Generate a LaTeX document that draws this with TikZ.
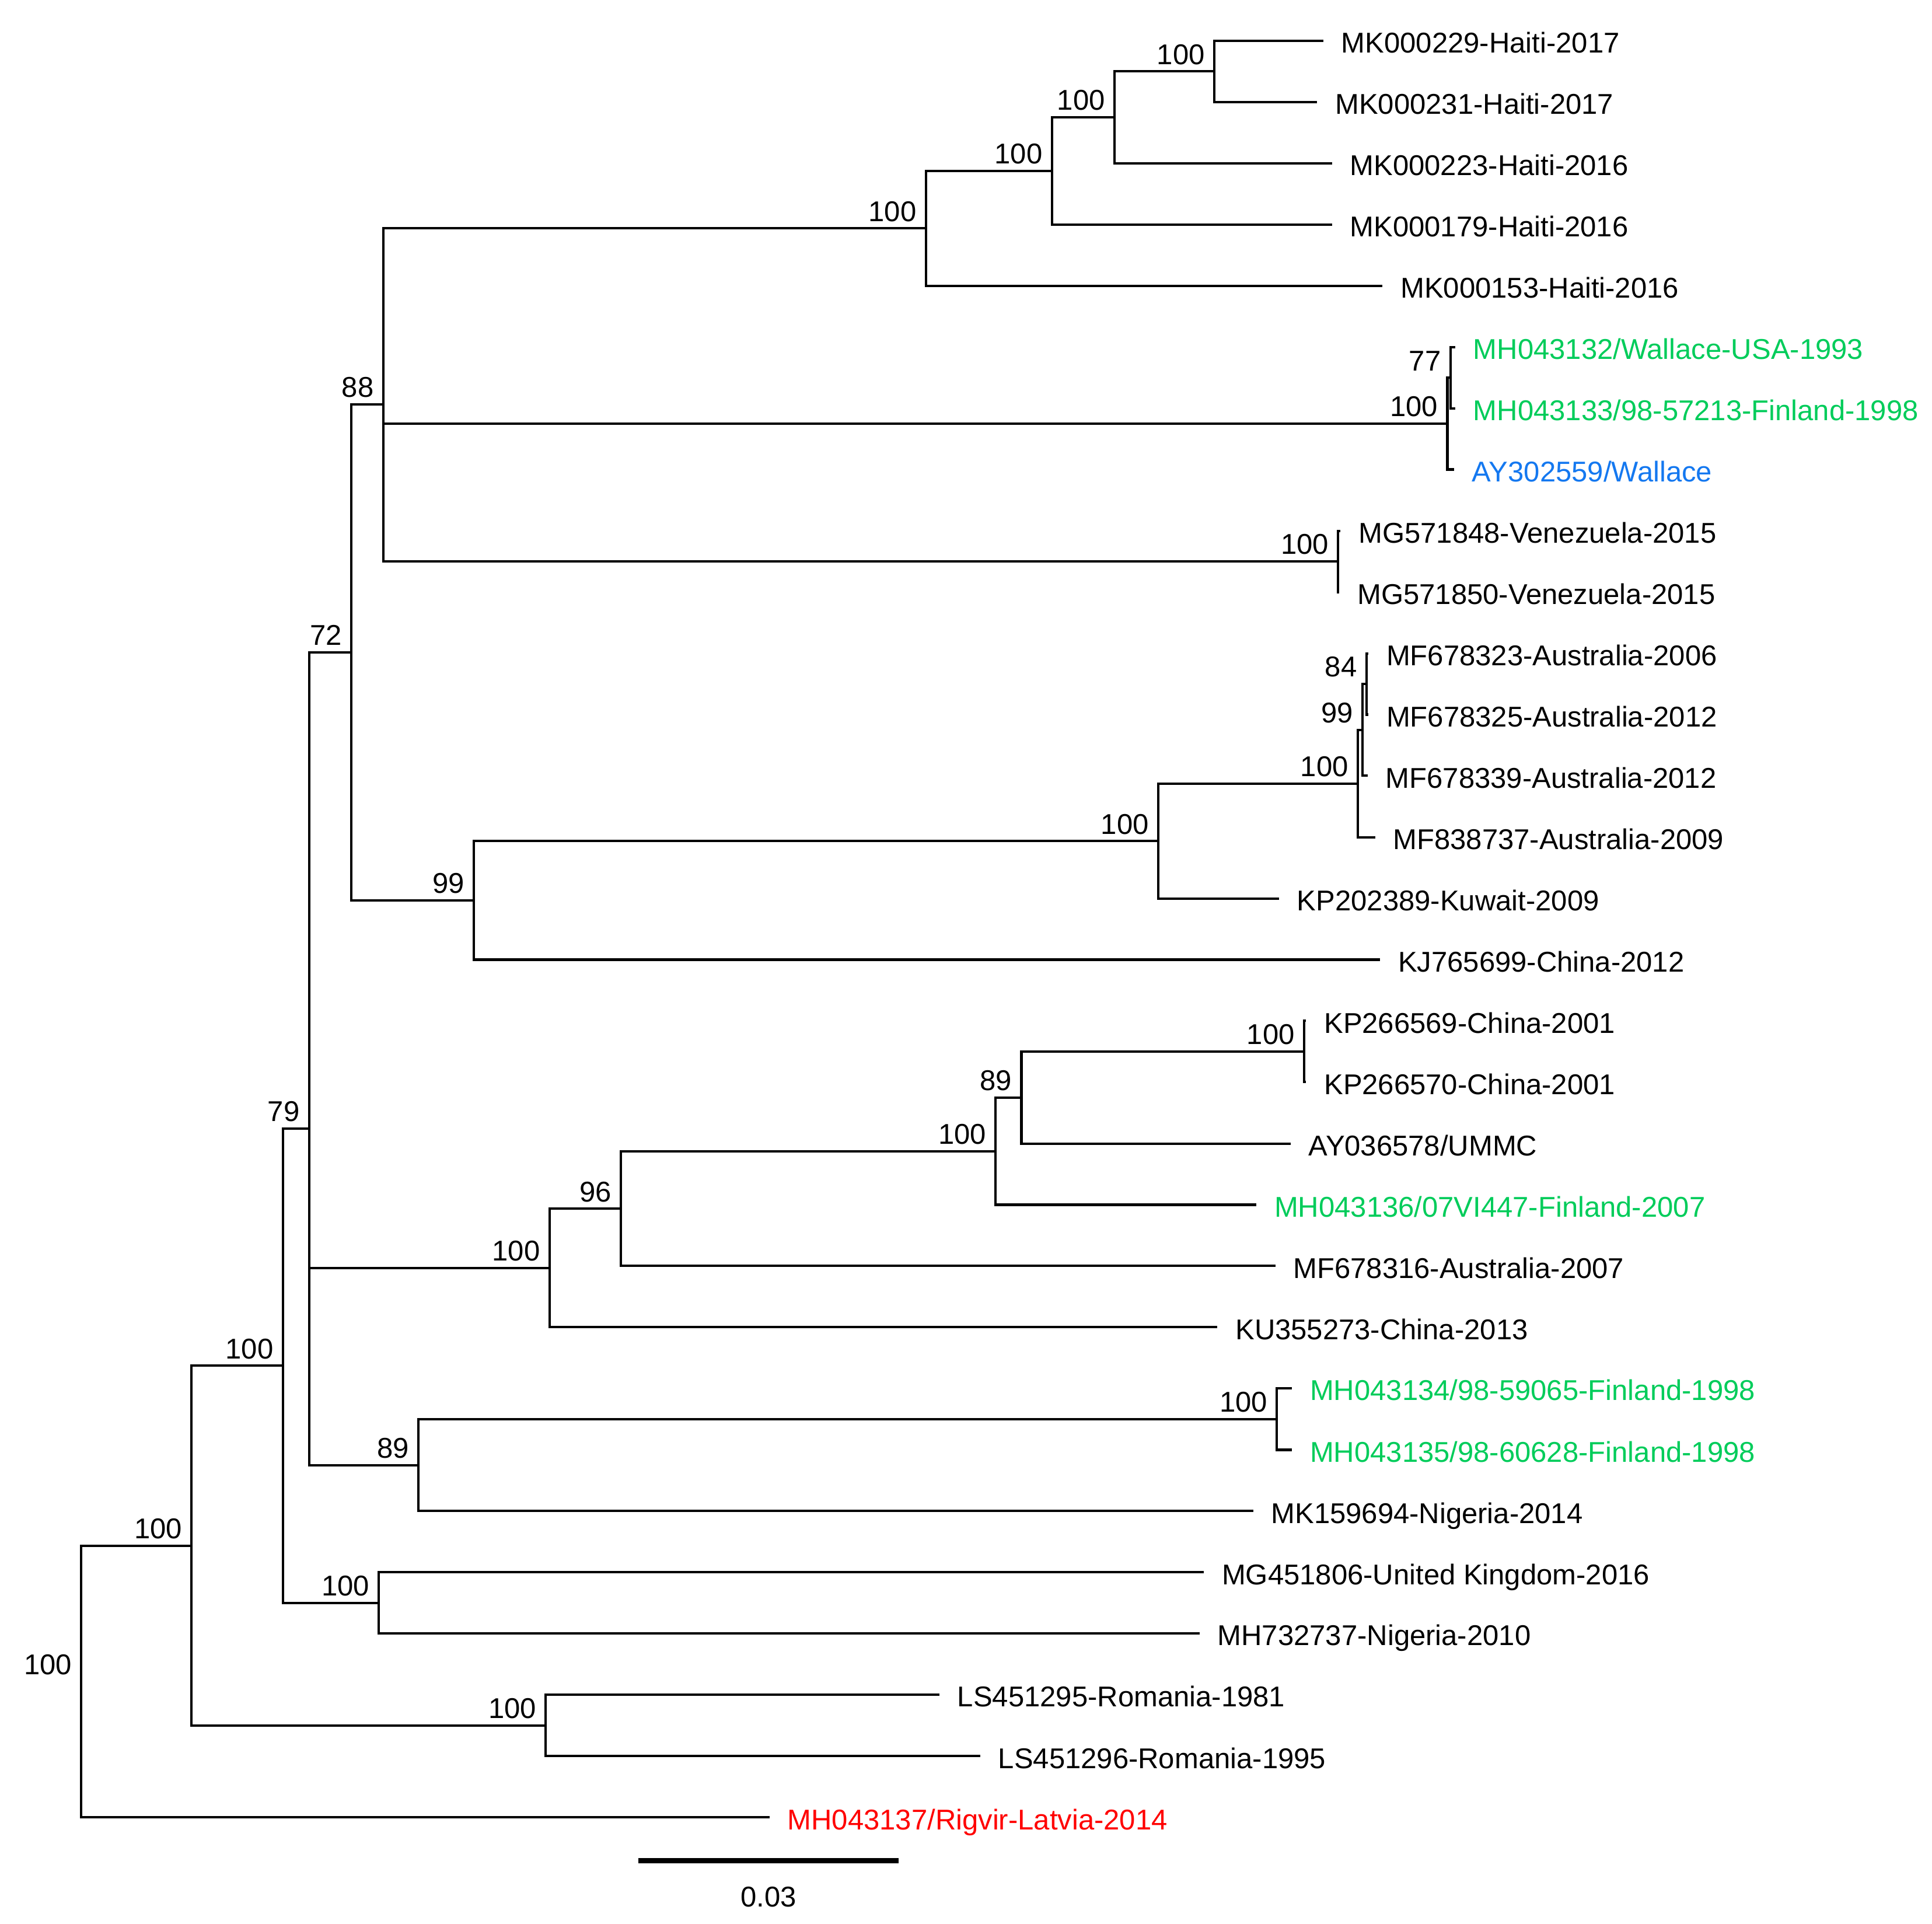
\documentclass[tikz,border=0pt]{standalone}
\usepackage{fontspec}
\setmainfont{Liberation Sans}
\usetikzlibrary{positioning}
\definecolor{isogreen}{RGB}{0,204,90}
\definecolor{isoblue}{RGB}{20,120,240}
\definecolor{isored}{RGB}{255,0,0}
\begin{document}
\begin{tikzpicture}[x=0.01cm,y=-0.01cm,node distance=0.14cm,
    branch/.style={line width=0.55pt},
    taxon/.style={right=of #1,yshift=-0.015cm,inner sep=0pt,text height=4.7pt,text depth=0pt,font=\fontsize{6.6}{8}\selectfont},
    boot/.style={above left=0.05cm and 0.07cm of #1,inner sep=0pt,text height=4.7pt,text depth=0pt,font=\fontsize{6.6}{8}\selectfont}]
    \useasboundingbox (0,0) rectangle (1568,1561);
    %% internal nodes
    \coordinate (root) at (66,1364.6);
    \coordinate (na) at (155.5,1254.3);
    \coordinate (nrom) at (443,1400.3);
    \coordinate (nb) at (229.5,1108.3);
    \coordinate (nnig) at (307.5,1300.9);
    \coordinate (nc) at (250.8,915.8);
    \coordinate (nd) at (285,529.4);
    \coordinate (ng) at (311,328.2);
    \coordinate (nha1) at (751.4,185.3);
    \coordinate (nha2) at (853.7,138.7);
    \coordinate (nha3) at (904.5,95.1);
    \coordinate (nha4) at (985.5,57.9);
    \coordinate (nwa1) at (1174.7,343.7);
    \coordinate (nwa2) at (1177.2,306.5);
    \coordinate (nve) at (1086,455.6);
    \coordinate (nh) at (384.7,730.6);
    \coordinate (nku) at (940,682.5);
    \coordinate (nau1) at (1102,635.9);
    \coordinate (nau2) at (1106,592.3);
    \coordinate (nau3) at (1109,555);
    \coordinate (ne) at (446,1029);
    \coordinate (n96) at (504,980.8);
    \coordinate (num) at (808,934.2);
    \coordinate (n89) at (829,890.7);
    \coordinate (nch) at (1058.4,853.4);
    \coordinate (nf) at (339.5,1189);
    \coordinate (nfi) at (1036.2,1151.7);
    %% leaf tips
    \coordinate (t1) at (1074,33);
    \coordinate (t2) at (1069,82.7);
    \coordinate (t3) at (1081,132.4);
    \coordinate (t4) at (1081,182.2);
    \coordinate (t5) at (1122,231.9);
    \coordinate (t6) at (1181,281.6);
    \coordinate (t7) at (1181,331.3);
    \coordinate (t8) at (1180,381);
    \coordinate (t9) at (1088,430.8);
    \coordinate (t10) at (1087,480.5);
    \coordinate (t11) at (1110.5,530.2);
    \coordinate (t12) at (1110.5,579.9);
    \coordinate (t13) at (1110,629.6);
    \coordinate (t14) at (1116,679.4);
    \coordinate (t15) at (1038,729.1);
    \coordinate (t16) at (1120,778.8);
    \coordinate (t17) at (1060,828.5);
    \coordinate (t18) at (1060,878.2);
    \coordinate (t19) at (1047.5,928);
    \coordinate (t20) at (1019.6,977.7);
    \coordinate (t21) at (1035,1027.4);
    \coordinate (t22) at (988,1077.1);
    \coordinate (t23) at (1048.5,1126.8);
    \coordinate (t24) at (1048.5,1176.6);
    \coordinate (t25) at (1017,1226.3);
    \coordinate (t26) at (977,1276);
    \coordinate (t27) at (973.5,1325.7);
    \coordinate (t28) at (762.4,1375.4);
    \coordinate (t29) at (795.5,1425.2);
    \coordinate (t30) at (624.5,1474.9);
    %% branches
    \draw[branch] (root) |- (na);
    \draw[branch] (root) |- (t30);
    \draw[branch] (na) |- (nb);
    \draw[branch] (na) |- (nrom);
    \draw[branch] (nrom) |- (t28);
    \draw[branch] (nrom) |- (t29);
    \draw[branch] (nb) |- (nc);
    \draw[branch] (nb) |- (nnig);
    \draw[branch] (nnig) |- (t26);
    \draw[branch] (nnig) |- (t27);
    \draw[branch] (nc) |- (nd);
    \draw[branch] (nc) |- (ne);
    \draw[branch] (nc) |- (nf);
    \draw[branch] (nd) |- (ng);
    \draw[branch] (nd) |- (nh);
    %% haiti, wallace, venezuela
    \draw[branch] (ng) |- (nha1);
    \draw[branch] (ng) |- (nwa1);
    \draw[branch] (ng) |- (nve);
    \draw[branch] (nha1) |- (nha2);
    \draw[branch] (nha1) |- (t5);
    \draw[branch] (nha2) |- (nha3);
    \draw[branch] (nha2) |- (t4);
    \draw[branch] (nha3) |- (nha4);
    \draw[branch] (nha3) |- (t3);
    \draw[branch] (nha4) |- (t1);
    \draw[branch] (nha4) |- (t2);
    \draw[branch] (nwa1) |- (nwa2);
    \draw[branch] (nwa1) |- (t8);
    \draw[branch] (nwa2) |- (t6);
    \draw[branch] (nwa2) |- (t7);
    \draw[branch] (nve) |- (t9);
    \draw[branch] (nve) |- (t10);
    %% australia, kuwait, china
    \draw[branch] (nh) |- (nku);
    \draw[branch] (nh) |- (t16);
    \draw[branch] (nku) |- (nau1);
    \draw[branch] (nku) |- (t15);
    \draw[branch] (nau1) |- (nau2);
    \draw[branch] (nau1) |- (t14);
    \draw[branch] (nau2) |- (nau3);
    \draw[branch] (nau2) |- (t13);
    \draw[branch] (nau3) |- (t11);
    \draw[branch] (nau3) |- (t12);
    %% ummc group
    \draw[branch] (ne) |- (n96);
    \draw[branch] (ne) |- (t22);
    \draw[branch] (n96) |- (num);
    \draw[branch] (n96) |- (t21);
    \draw[branch] (num) |- (n89);
    \draw[branch] (num) |- (t20);
    \draw[branch] (n89) |- (nch);
    \draw[branch] (n89) |- (t19);
    \draw[branch] (nch) |- (t17);
    \draw[branch] (nch) |- (t18);
    \draw[branch] (nf) |- (nfi);
    \draw[branch] (nf) |- (t25);
    \draw[branch] (nfi) |- (t23);
    \draw[branch] (nfi) |- (t24);
    %% bootstrap values
    \node[boot=root] (broot) {100};
    \node[boot=na] (bna) {100};
    \node[boot=nrom] (bnrom) {100};
    \node[boot=nb] (bnb) {100};
    \node[boot=nnig] (bnnig) {100};
    \node[boot=nc] (bnc) {79};
    \node[boot=nd] (bnd) {72};
    \node[boot=ng] (bng) {88};
    \node[boot=nha1] (bnha1) {100};
    \node[boot=nha2] (bnha2) {100};
    \node[boot=nha3] (bnha3) {100};
    \node[boot=nha4] (bnha4) {100};
    \node[boot=nwa1] (bnwa1) {100};
    \node[boot=nwa2] (bnwa2) {77};
    \node[boot=nve] (bnve) {100};
    \node[boot=nh] (bnh) {99};
    \node[boot=nku] (bnku) {100};
    \node[boot=nau1] (bnau1) {100};
    \node[boot=nau2] (bnau2) {99};
    \node[boot=nau3] (bnau3) {84};
    \node[boot=ne] (bne) {100};
    \node[boot=n96] (bn96) {96};
    \node[boot=num] (bnum) {100};
    \node[boot=n89] (bn89) {89};
    \node[boot=nch] (bnch) {100};
    \node[boot=nf] (bnf) {89};
    \node[boot=nfi] (bnfi) {100};
    %% taxa
    \node[taxon=t1] (l1) {MK000229-Haiti-2017};
    \node[taxon=t2] (l2) {MK000231-Haiti-2017};
    \node[taxon=t3] (l3) {MK000223-Haiti-2016};
    \node[taxon=t4] (l4) {MK000179-Haiti-2016};
    \node[taxon=t5] (l5) {MK000153-Haiti-2016};
    \node[taxon=t6,text=isogreen] (l6) {MH043132/Wallace-USA-1993};
    \node[taxon=t7,text=isogreen] (l7) {MH043133/98-57213-Finland-1998};
    \node[taxon=t8,text=isoblue] (l8) {AY302559/Wallace};
    \node[taxon=t9] (l9) {MG571848-Venezuela-2015};
    \node[taxon=t10] (l10) {MG571850-Venezuela-2015};
    \node[taxon=t11] (l11) {MF678323-Australia-2006};
    \node[taxon=t12] (l12) {MF678325-Australia-2012};
    \node[taxon=t13] (l13) {MF678339-Australia-2012};
    \node[taxon=t14] (l14) {MF838737-Australia-2009};
    \node[taxon=t15] (l15) {KP202389-Kuwait-2009};
    \node[taxon=t16] (l16) {KJ765699-China-2012};
    \node[taxon=t17] (l17) {KP266569-China-2001};
    \node[taxon=t18] (l18) {KP266570-China-2001};
    \node[taxon=t19] (l19) {AY036578/UMMC};
    \node[taxon=t20,text=isogreen] (l20) {MH043136/07VI447-Finland-2007};
    \node[taxon=t21] (l21) {MF678316-Australia-2007};
    \node[taxon=t22] (l22) {KU355273-China-2013};
    \node[taxon=t23,text=isogreen] (l23) {MH043134/98-59065-Finland-1998};
    \node[taxon=t24,text=isogreen] (l24) {MH043135/98-60628-Finland-1998};
    \node[taxon=t25] (l25) {MK159694-Nigeria-2014};
    \node[taxon=t26] (l26) {MG451806-United Kingdom-2016};
    \node[taxon=t27] (l27) {MH732737-Nigeria-2010};
    \node[taxon=t28] (l28) {LS451295-Romania-1981};
    \node[taxon=t29] (l29) {LS451296-Romania-1995};
    \node[taxon=t30,text=isored] (l30) {MH043137/Rigvir-Latvia-2014};
    %% scale bar
    \coordinate (sb1) at (518,1510);
    \coordinate (sb2) at (729.3,1510);
    \draw[line width=1.1pt] (sb1) -- (sb2) node[midway,below=0.19cm,inner sep=0pt,text height=4.7pt,text depth=0pt,font=\fontsize{6.6}{8}\selectfont] (sbl) {0.03};
\end{tikzpicture}
\end{document}
